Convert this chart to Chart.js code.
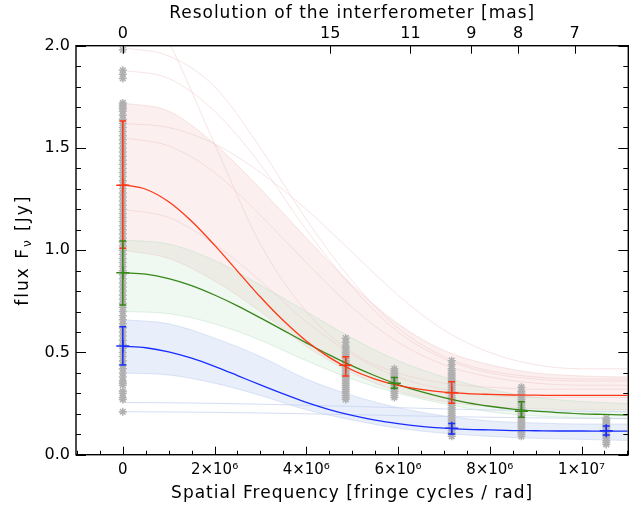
<!DOCTYPE html>
<html><head><meta charset="utf-8">
<script src="https://cdn.jsdelivr.net/npm/chart.js@4.4.0/dist/chart.umd.min.js"></script>
<style>html,body{margin:0;padding:0;background:#fff;}#wrap{width:644px;height:508px;}</style>
</head><body><div id="wrap"><canvas id="c" width="644" height="508"></canvas></div>
<script>
// ---------------- data ----------------
const xTitle = 'Spatial Frequency [fringe cycles / rad]';
const topTitle = 'Resolution of the interferometer [mas]';
const yTitleParts = ['flux F', 'ν', ' [Jy]'];
const xTickValues = [0, 2e6, 4e6, 6e6, 8e6, 1e7];
const xTickLabels = ['0', '2×10⁶', '4×10⁶', '6×10⁶', '8×10⁶', '1×10⁷'];
const topTickValues = [0, 4.52e6, 6.27e6, 7.60e6, 8.62e6, 9.85e6];
const topTickLabels = ['0', '15', '11', '9', '8', '7'];
const yTickValues = [0, 0.5, 1.0, 1.5, 2.0];
const yTickLabels = ['0.0', '0.5', '1.0', '1.5', '2.0'];

// best-fit model curves
const curveU = [0, 0.5e6, 1e6, 1.5e6, 2e6, 2.5e6, 3e6, 3.5e6, 4e6, 4.5e6, 5e6, 5.5e6,
                6e6, 6.5e6, 7e6, 7.5e6, 8e6, 8.5e6, 9e6, 9.5e6, 10e6, 10.5e6, 11e6];
const redCurve   = [1.320, 1.298, 1.237, 1.142, 1.025, 0.898, 0.771, 0.656, 0.556, 0.476, 0.414, 0.370,
                    0.339, 0.319, 0.306, 0.299, 0.295, 0.292, 0.291, 0.290, 0.290, 0.290, 0.290];
const greenCurve = [0.890, 0.883, 0.861, 0.827, 0.781, 0.728, 0.669, 0.608, 0.547, 0.488, 0.434, 0.386,
                    0.343, 0.308, 0.279, 0.255, 0.237, 0.223, 0.213, 0.206, 0.200, 0.197, 0.194];
const blueCurve  = [0.530, 0.523, 0.503, 0.472, 0.432, 0.387, 0.341, 0.297, 0.256, 0.221, 0.192, 0.169,
                    0.152, 0.139, 0.130, 0.124, 0.121, 0.118, 0.117, 0.116, 0.116, 0.115, 0.115];

// spread of the Monte-Carlo model curves (faint bands)
const bandU = [0, 1e6, 2e6, 3e6, 4e6, 5e6, 6e6, 7e6, 8e6, 9e6, 10e6, 11e6];
const redBandHi   = [1.72, 1.68, 1.52, 1.30, 1.06, 0.83, 0.64, 0.51, 0.44, 0.40, 0.385, 0.38];
const redBandLo   = [1.00, 0.96, 0.85, 0.70, 0.53, 0.40, 0.31, 0.26, 0.235, 0.225, 0.22, 0.22];
const greenBandHi = [1.05, 1.03, 0.95, 0.83, 0.70, 0.57, 0.46, 0.38, 0.32, 0.28, 0.26, 0.25];
const greenBandLo = [0.70, 0.69, 0.64, 0.56, 0.46, 0.37, 0.30, 0.25, 0.21, 0.19, 0.18, 0.175];
const blueBandHi  = [0.66, 0.64, 0.57, 0.48, 0.37, 0.29, 0.23, 0.19, 0.165, 0.155, 0.15, 0.15];
const blueBandLo  = [0.40, 0.39, 0.35, 0.29, 0.22, 0.17, 0.13, 0.105, 0.09, 0.08, 0.075, 0.07];
const redFaintA   = [1.99, 1.95, 1.80, 1.50, 1.15, 0.85, 0.62, 0.48, 0.41, 0.38, 0.37, 0.37];
const redFaintB   = [1.88, 1.84, 1.68, 1.42, 1.10, 0.82, 0.60, 0.47, 0.40, 0.37, 0.36, 0.36];
const redFaintC   = [2.40, 2.02, 1.52, 1.03, 0.70, 0.50, 0.40, 0.35, 0.33, 0.32, 0.32, 0.32];
const redFaintD   = [1.55, 1.51, 1.38, 1.17, 0.94, 0.72, 0.55, 0.44, 0.38, 0.35, 0.34, 0.34];
const redFaintE   = [1.20, 1.16, 1.03, 0.85, 0.65, 0.49, 0.38, 0.32, 0.29, 0.28, 0.28, 0.28];
const redFaintF   = [1.62, 1.60, 1.52, 1.38, 1.20, 0.99, 0.78, 0.61, 0.50, 0.44, 0.42, 0.42];
const blueFaintA  = [0.255, 0.254, 0.251, 0.247, 0.242, 0.236, 0.230, 0.224, 0.219, 0.215, 0.212, 0.210];
const blueFaintB  = [0.210, 0.209, 0.207, 0.204, 0.200, 0.196, 0.191, 0.187, 0.183, 0.180, 0.178, 0.177];

// observed visibilities (+ error bars)
const redObsX = [0, 4.86e6, 7.17e6];
const redObsY = [1.318, 0.437, 0.303];
const redObsLo = [1.009, 0.385, 0.251];
const redObsHi = [1.632, 0.479, 0.357];
const greenObsX = [0, 5.92e6, 8.69e6];
const greenObsY = [0.890, 0.350, 0.212];
const greenObsLo = [0.732, 0.325, 0.183];
const greenObsHi = [1.045, 0.377, 0.259];
const blueObsX = [0, 7.17e6, 10.54e6];
const blueObsY = [0.531, 0.129, 0.117];
const blueObsLo = [0.439, 0.101, 0.096];
const blueObsHi = [0.626, 0.153, 0.140];

// Monte-Carlo samples (grey asterisks), one list per spatial frequency
const sampleX = [0, 4.86e6, 5.92e6, 7.17e6, 8.69e6, 10.54e6];
const samples0 = [1.98, 1.88, 1.86, 1.84, 1.72, 1.71, 1.70, 1.69, 1.68, 1.66, 1.64, 1.62, 1.60, 1.58, 1.56, 1.54,
  1.52, 1.50, 1.48, 1.46, 1.44, 1.42, 1.40, 1.38, 1.36, 1.34, 1.32, 1.30, 1.28, 1.26, 1.24, 1.22, 1.20, 1.18,
  1.16, 1.14, 1.12, 1.10, 1.08, 1.06, 1.04, 1.02, 1.00, 0.98, 0.96, 0.94, 0.92, 0.90, 0.88, 0.86, 0.84, 0.82,
  0.80, 0.78, 0.76, 0.74, 0.72, 0.70, 0.68, 0.66, 0.64, 0.62, 0.60, 0.58, 0.56, 0.54, 0.52, 0.50, 0.48, 0.46,
  0.44, 0.42, 0.40, 0.38, 0.36, 0.35, 0.34, 0.31, 0.30, 0.28, 0.27, 0.21];
const samples1 = [0.57, 0.55, 0.53, 0.52, 0.51, 0.50, 0.49, 0.48, 0.47, 0.46, 0.45, 0.44, 0.43, 0.42, 0.41,
  0.40, 0.39, 0.38, 0.37, 0.36, 0.35, 0.34, 0.33, 0.32, 0.31, 0.30, 0.29, 0.28, 0.27];
const samples2 = [0.42, 0.41, 0.40, 0.39, 0.38, 0.37, 0.36, 0.35, 0.34, 0.33, 0.32, 0.31, 0.30, 0.29, 0.28];
const samples3 = [0.46, 0.44, 0.42, 0.41, 0.40, 0.39, 0.38, 0.37, 0.36, 0.35, 0.34, 0.33, 0.32, 0.31, 0.30,
  0.29, 0.28, 0.27, 0.26, 0.25, 0.24, 0.23, 0.22, 0.21, 0.20, 0.19, 0.18, 0.17, 0.16, 0.15, 0.14, 0.13, 0.12,
  0.11, 0.10, 0.09];
const samples4 = [0.33, 0.31, 0.30, 0.29, 0.28, 0.27, 0.26, 0.25, 0.24, 0.23, 0.22, 0.21, 0.20, 0.19, 0.18,
  0.17, 0.16, 0.15, 0.14, 0.13, 0.12, 0.11, 0.10, 0.09];
const samples5 = [0.18, 0.17, 0.16, 0.15, 0.14, 0.13, 0.12, 0.11, 0.10, 0.09, 0.08, 0.07, 0.06, 0.05];

// ---------------- helpers ----------------
const FONT = 'DejaVu Sans';
const pts = (xs, ys) => xs.map((x, i) => ({x: x, y: ys[i]}));
const sampleLists = [samples0, samples1, samples2, samples3, samples4, samples5];
const starPts = [];
sampleLists.forEach((list, k) => list.forEach(v => starPts.push({x: sampleX[k], y: v})));

function curve(data, color, width, order, extra) {
  return Object.assign({type: 'line', data: data, borderColor: color, borderWidth: width,
    pointRadius: 0, fill: false, cubicInterpolationMode: 'monotone', order: order}, extra || {});
}
function obs(xs, ys, lo, hi, color) {
  return {type: 'line', data: xs.map((x, i) => ({x: x, y: ys[i], lo: lo[i], hi: hi[i]})),
    showLine: false, pointStyle: 'cross', pointRadius: 6.5, pointBorderColor: color,
    pointBackgroundColor: color, pointBorderWidth: 1.5, errColor: color, order: 0};
}
const PINK = 'rgba(238,195,195,0.45)';
const datasets = [
  curve(pts(bandU, redBandHi), 'rgba(238,190,190,0.4)', 1, 20, {fill: '+1', backgroundColor: 'rgba(240,190,190,0.24)'}),
  curve(pts(bandU, redBandLo), 'rgba(238,190,190,0.4)', 1, 20),
  curve(pts(bandU, greenBandHi), 'rgba(185,225,195,0.45)', 1, 19, {fill: '+1', backgroundColor: 'rgba(190,228,198,0.25)'}),
  curve(pts(bandU, greenBandLo), 'rgba(185,225,195,0.45)', 1, 19),
  curve(pts(bandU, blueBandHi), 'rgba(190,205,240,0.5)', 1, 18, {fill: '+1', backgroundColor: 'rgba(190,205,240,0.35)'}),
  curve(pts(bandU, blueBandLo), 'rgba(190,205,240,0.5)', 1, 18),
  curve(pts(bandU, redFaintA), PINK, 1, 15),
  curve(pts(bandU, redFaintB), PINK, 1, 15),
  curve(pts(bandU, redFaintC), PINK, 1, 15),
  curve(pts(bandU, redFaintD), PINK, 1, 15),
  curve(pts(bandU, redFaintE), PINK, 1, 15),
  curve(pts(bandU, redFaintF), PINK, 1, 15),
  curve(pts(bandU, blueFaintA), 'rgba(200,212,240,0.8)', 1, 15),
  curve(pts(bandU, blueFaintB), 'rgba(200,212,240,0.8)', 1, 15),
  {type: 'line', data: starPts, showLine: false, pointStyle: 'star', pointRadius: 4,
   pointBorderColor: 'rgb(176,176,176)', pointBackgroundColor: 'rgb(176,176,176)', pointBorderWidth: 1.5, order: 10},
  curve(pts(curveU, redCurve), 'rgb(255,55,20)', 1.3, 3),
  curve(pts(curveU, greenCurve), 'rgb(55,135,25)', 1.3, 3),
  curve(pts(curveU, blueCurve), 'rgb(25,45,255)', 1.3, 3),
  obs(redObsX, redObsY, redObsLo, redObsHi, 'rgb(255,55,20)'),
  obs(greenObsX, greenObsY, greenObsLo, greenObsHi, 'rgb(55,135,25)'),
  obs(blueObsX, blueObsY, blueObsLo, blueObsHi, 'rgb(25,45,255)')
];

// ---------------- plugins ----------------
const errorBars = {
  id: 'errorBars',
  afterDatasetsDraw(chart) {
    const {ctx, scales: {x, y}} = chart;
    ctx.save();
    chart.data.datasets.forEach(ds => {
      if (!ds.errColor) return;
      ctx.strokeStyle = ds.errColor; ctx.lineWidth = 1.5;
      ds.data.forEach(p => {
        const px = x.getPixelForValue(p.x);
        const y1 = y.getPixelForValue(p.lo), y2 = y.getPixelForValue(p.hi);
        ctx.beginPath();
        ctx.moveTo(px, y1); ctx.lineTo(px, y2);
        ctx.moveTo(px - 3.5, y1); ctx.lineTo(px + 3.5, y1);
        ctx.moveTo(px - 3.5, y2); ctx.lineTo(px + 3.5, y2);
        ctx.stroke();
      });
    });
    ctx.restore();
  }
};

const frame = {
  id: 'frame',
  afterDatasetsDraw(chart) {
    const {ctx, chartArea: a, scales: {x, y}} = chart;
    ctx.save();
    ctx.strokeStyle = '#000'; ctx.lineWidth = 1;
    ctx.beginPath();
    for (let k = -2; k <= 22; k++) {
      const v = k * 0.5e6;
      if (v < x.min || v > x.max) continue;
      const px = Math.round(x.getPixelForValue(v)) + 0.5;
      const L = (k % 4 === 0) ? 8 : 4;
      ctx.moveTo(px, a.bottom); ctx.lineTo(px, a.bottom - L);
    }
    topTickValues.forEach(v => {
      const px = Math.round(x.getPixelForValue(v)) + 0.5;
      ctx.moveTo(px, a.top); ctx.lineTo(px, a.top + 8);
    });
    for (let k = 0; k <= 20; k++) {
      const py = Math.round(y.getPixelForValue(k / 10)) + 0.5;
      const L = (k % 5 === 0) ? 10 : 5;
      ctx.moveTo(a.left, py); ctx.lineTo(a.left + L, py);
      ctx.moveTo(a.right, py); ctx.lineTo(a.right - L, py);
    }
    ctx.stroke();
    ctx.lineWidth = 1.4;
    ctx.strokeRect(a.left, a.top, a.right - a.left, a.bottom - a.top);
    ctx.restore();
  }
};

const titles = {
  id: 'titles',
  afterDraw(chart) {
    const {ctx, chartArea: a} = chart;
    const cx = (a.left + a.right) / 2;
    ctx.save();
    ctx.fillStyle = '#000';
    ctx.textBaseline = 'middle';
    ctx.textAlign = 'center';
    ctx.font = '17px "' + FONT + '"';
    try { ctx.letterSpacing = '1px'; } catch (e) {}
    ctx.fillText(xTitle, cx, 494);
    ctx.fillText(topTitle, cx, 14);
    ctx.translate(24, (a.top + a.bottom) / 2);
    ctx.rotate(-Math.PI / 2);
    ctx.textAlign = 'left';
    try { ctx.letterSpacing = '2px'; } catch (e) {}
    const big = '17px "' + FONT + '"', small = '12px "' + FONT + '"';
    const parts = [[yTitleParts[0], big, 0], [yTitleParts[1], small, 4], [yTitleParts[2], big, 0]];
    let total = 0;
    parts.forEach(p => { ctx.font = p[1]; total += ctx.measureText(p[0]).width; });
    let px = -total / 2;
    parts.forEach(p => {
      ctx.font = p[1];
      ctx.fillText(p[0], px, p[2]);
      px += ctx.measureText(p[0]).width;
    });
    ctx.restore();
  }
};

new Chart(document.getElementById('c'), {
  type: 'line',
  data: {datasets: datasets},
  options: {
    responsive: false, animation: false, devicePixelRatio: 1,
    layout: {padding: {left: 0, right: 15.7, top: 0, bottom: 0}},
    plugins: {legend: {display: false}, tooltip: {enabled: false}},
    scales: {
      x: {
        type: 'linear', position: 'bottom', min: -1.02e6, max: 11.02e6,
        afterBuildTicks: s => { s.ticks = xTickValues.map(v => ({value: v})); },
        afterFit: s => { s.height = 53.3; },
        grid: {display: false, drawTicks: false}, border: {display: false},
        ticks: {autoSkip: false, maxRotation: 0, padding: 6, color: '#000', font: {family: FONT, size: 15},
                callback: (v, i) => xTickLabels[i]}
      },
      x2: {
        type: 'linear', position: 'top', min: -1.02e6, max: 11.02e6,
        afterBuildTicks: s => { s.ticks = topTickValues.map(v => ({value: v})); },
        afterFit: s => { s.height = 45.7; },
        grid: {display: false, drawTicks: false}, border: {display: false},
        ticks: {autoSkip: false, maxRotation: 0, padding: 2, color: '#000', font: {family: FONT, size: 16},
                callback: (v, i) => topTickLabels[i]}
      },
      y: {
        type: 'linear', position: 'left', min: 0, max: 2.0,
        afterBuildTicks: s => { s.ticks = yTickValues.map(v => ({value: v})); },
        afterFit: s => { s.width = 76; },
        grid: {display: false, drawTicks: false}, border: {display: false},
        ticks: {padding: 6, color: '#000', font: {family: FONT, size: 16}, callback: (v, i) => yTickLabels[i]}
      }
    }
  },
  plugins: [errorBars, frame, titles]
});
</script></body></html>
